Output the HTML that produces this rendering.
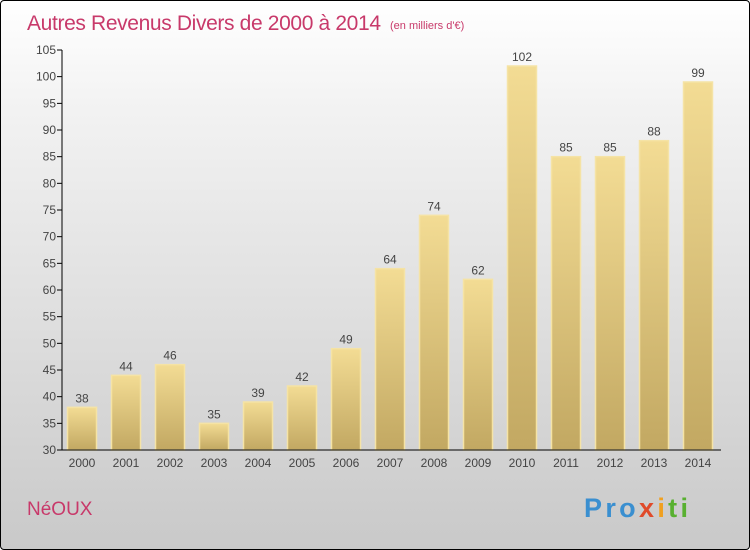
<!DOCTYPE html>
<html><head><meta charset="utf-8"><style>
body{margin:0}
#wrap{position:relative;width:748px;height:548px;border:1px solid #000;border-radius:4px;background:linear-gradient(#ffffff,#f2f2f2 20%,#c9c9c9);overflow:hidden;font-family:"Liberation Sans",sans-serif}
</style></head><body>
<div id="wrap">
<svg width="748" height="548" id="svg">
<defs><linearGradient id="bg" x1="0" y1="0" x2="0" y2="1"><stop offset="0" stop-color="#f3dc94"/><stop offset="1" stop-color="#c2a862"/></linearGradient></defs>
<text x="26" y="29" font-size="21" fill="#c8396a" textLength="354">Autres Revenus Divers de 2000 à 2014</text>
<text x="389" y="28" font-size="11" fill="#c8396a">(en milliers d'€)</text>
<text x="26" y="514" font-size="19" fill="#c8396a">NéOUX</text>
<text x="583" y="516" font-size="27" font-weight="bold" fill="#3a8fd0" textLength="104">Pro<tspan fill="#e04a2a">x</tspan><tspan fill="#f0a020">i</tspan><tspan fill="#58b030">ti</tspan></text>
<g id="g"></g>
</svg></div>
<script>
const years=["2000","2001","2002","2003","2004","2005","2006","2007","2008","2009","2010","2011","2012","2013","2014"];
const values=[38,44,46,35,39,42,49,64,74,62,102,85,85,88,99];
const yTicks=[30,35,40,45,50,55,60,65,70,75,80,85,90,95,100,105];
const y=v=>449-(v-30)*400/75;
const x=i=>81+i*44;
const g=document.getElementById('g');const NS='http://www.w3.org/2000/svg';
function mk(t,a,txt){const e=document.createElementNS(NS,t);for(const k in a)e.setAttribute(k,a[k]);if(txt!==undefined)e.textContent=txt;g.appendChild(e);return e;}
yTicks.forEach(t=>{
const l=mk('line',{x1:56,x2:61,y1:y(t),y2:y(t),stroke:'#000'});


const tx=mk('text',{x:55,y:y(t)+4,'text-anchor':'end','font-size':12,fill:'#444'},t);


});
values.forEach((v,i)=>{
const r=mk('rect',{x:x(i)-14.5,y:y(v),width:29,height:y(30)-y(v),fill:'url(#bg)',stroke:'#f5e3a5','stroke-width':1.5});


const vl=mk('text',{x:x(i),y:y(v)-5,'text-anchor':'middle','font-size':12,fill:'#444'},v);


const xl=mk('text',{x:x(i),y:466,'text-anchor':'middle','font-size':12,fill:'#444'},years[i]);


});
const ya=mk('line',{x1:61,x2:61,y1:y(105),y2:y(30),stroke:'#000'});


const xa=mk('line',{x1:61,x2:720,y1:y(30),y2:y(30),stroke:'#000'});


</script>
</body></html>
